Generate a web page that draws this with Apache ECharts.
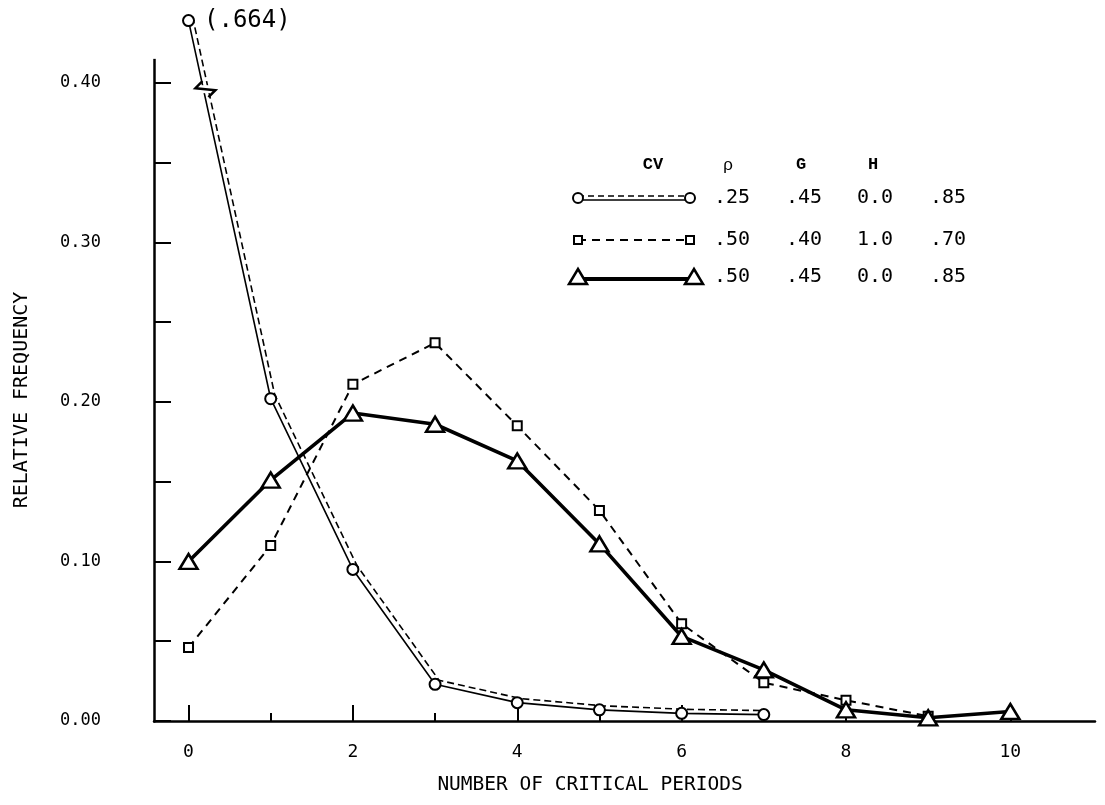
<!DOCTYPE html>
<html><head><meta charset="utf-8">
<script src="https://cdn.jsdelivr.net/npm/echarts@6/dist/echarts.min.js"></script>
<style>html,body{margin:0;padding:0;background:#fff}#c{width:1105px;height:805px}</style>
</head><body><div id="c"></div>
<script>
// ---- data ----
const periods = [0, 1, 2, 3, 4, 5, 6, 7, 8, 9, 10];
const circleSeries = [0.664, 0.202, 0.095, 0.023, 0.0115, 0.007, 0.0048, 0.004];           // CV .25
const squareSeries = [0.046, 0.110, 0.211, 0.237, 0.185, 0.132, 0.061, 0.024, 0.013, 0.003]; // CV .50 G 1.0
const triangleSeries = [0.100, 0.151, 0.193, 0.186, 0.163, 0.111, 0.053, 0.032, 0.007, 0.002, 0.006]; // CV .50 G 0.0
const xLabelValues = [0, 2, 4, 6, 8, 10];
const xMinorTickValues = [1, 3, 5, 7, 9];
const yLabelValues = [0, 0.1, 0.2, 0.3, 0.4];
const yTickValues = [0, 0.05, 0.1, 0.15, 0.2, 0.25, 0.3, 0.35, 0.4];
const legendHeader = ['CV', 'ρ', 'G', 'H'];
const legendRows = [
  ['.25', '.45', '0.0', '.85'],
  ['.50', '.40', '1.0', '.70'],
  ['.50', '.45', '0.0', '.85']
];
const topValueLabel = '(.664)';
const xTitle = 'NUMBER OF CRITICAL PERIODS';
const yTitle = 'RELATIVE FREQUENCY';

// ---- chart ----
const MONO = '"DejaVu Sans Mono", monospace';
const chart = echarts.init(document.getElementById('c'), null, {renderer: 'canvas'});

const pairs = (arr) => arr.map((v, i) => [periods[i], v]);

function makeY(gridIndex, visible) {
  return {
    type: 'value', gridIndex, min: 0, max: 0.67, position: 'left',
    breaks: [{start: 0.425, end: 0.65, gap: 0}],
    breakArea: {show: false},
    show: visible,
    splitLine: {show: false},
    axisLine: {show: true, onZero: false, lineStyle: {color: '#000', width: 2.5}},
    axisTick: {show: true, inside: true, length: 17, customValues: yTickValues, lineStyle: {color: '#000', width: 2}},
    axisLabel: {show: true, customValues: yLabelValues, margin: 53, color: '#000', fontFamily: MONO, fontSize: 17,
      formatter: (v) => v.toFixed(2)}
  };
}
function makeX(gridIndex, visible, minor) {
  return {
    type: 'value', gridIndex, min: -0.42, max: 11.03, position: 'bottom',
    show: visible,
    splitLine: {show: false},
    axisLine: {show: !minor, onZero: false, lineStyle: {color: '#000', width: 2.5}},
    axisTick: {show: true, inside: true, length: minor ? 8 : 16,
      customValues: minor ? xMinorTickValues : xLabelValues, lineStyle: {color: '#000', width: 2}},
    axisLabel: {show: !minor, customValues: xLabelValues, margin: 22, color: '#000', fontFamily: MONO, fontSize: 18}
  };
}

const circleData = pairs(circleSeries).map((p, i) => i === 0 ? {
  value: p,
  label: {show: true, position: 'right', distance: 9, formatter: topValueLabel,
    color: '#000', fontFamily: MONO, fontSize: 24}
} : p);

// legend drawing
const lx0 = 578, lx1 = 690;
const rowY = [198, 240, 277];
const valX = [732, 804, 875, 948];
const headX = [653, 728, 801, 873];
const headY = 165;
const legendGraphics = [];
legendHeader.forEach((h, i) => legendGraphics.push({
  type: 'text', x: headX[i], y: headY,
  style: {text: h, fill: '#000', font: (i === 1 ? '' : 'bold ') + '17px "Liberation Mono", monospace', align: 'center', verticalAlign: 'middle'}
}));
legendRows.forEach((row, r) => row.forEach((t, i) => legendGraphics.push({
  type: 'text', x: valX[i], y: rowY[r],
  style: {text: t, fill: '#000', font: '20px ' + MONO, align: 'center', verticalAlign: 'middle'}
})));
legendGraphics.push(
  {type: 'line', shape: {x1: lx0, y1: rowY[0] + 2, x2: lx1, y2: rowY[0] + 2}, style: {stroke: '#000', lineWidth: 1.5}},
  {type: 'line', shape: {x1: lx0, y1: rowY[0] - 2, x2: lx1, y2: rowY[0] - 2}, style: {stroke: '#000', lineWidth: 1.5, lineDash: [6, 4]}},
  {type: 'circle', shape: {cx: lx0, cy: rowY[0], r: 5}, style: {fill: '#fff', stroke: '#000', lineWidth: 2}, z: 10},
  {type: 'circle', shape: {cx: lx1, cy: rowY[0], r: 5}, style: {fill: '#fff', stroke: '#000', lineWidth: 2}, z: 10}
);
legendGraphics.push(
  {type: 'line', shape: {x1: lx0, y1: rowY[1], x2: lx1, y2: rowY[1]}, style: {stroke: '#000', lineWidth: 2, lineDash: [8, 6]}},
  {type: 'rect', shape: {x: lx0 - 4, y: rowY[1] - 4, width: 8, height: 8}, style: {fill: '#fff', stroke: '#000', lineWidth: 2}, z: 10},
  {type: 'rect', shape: {x: lx1 - 4, y: rowY[1] - 4, width: 8, height: 8}, style: {fill: '#fff', stroke: '#000', lineWidth: 2}, z: 10}
);
const tri = (x, y) => ({type: 'polygon', shape: {points: [[x - 9, y + 7], [x + 9, y + 7], [x, y - 8]]},
  style: {fill: '#fff', stroke: '#000', lineWidth: 2.5}, z: 10});
legendGraphics.push(
  {type: 'line', shape: {x1: lx0, y1: rowY[2] + 2, x2: lx1, y2: rowY[2] + 2}, style: {stroke: '#000', lineWidth: 4}},
  tri(lx0, rowY[2]), tri(lx1 + 4, rowY[2])
);
legendGraphics.push(
  {type: 'text', x: 590, y: 785, style: {text: xTitle, fill: '#000', font: '19.5px ' + MONO, align: 'center', verticalAlign: 'middle'}},
  {type: 'text', x: 22, y: 400, rotation: Math.PI / 2,
    style: {text: yTitle, fill: '#000', font: '20px ' + MONO, align: 'center', verticalAlign: 'middle'}}
);

const option = {
  backgroundColor: '#fff',
  animation: false,
  grid: [
    {left: 154, right: 10, top: 11, bottom: 84},
    {left: 158, right: 6, top: 7, bottom: 88}
  ],
  xAxis: [makeX(0, true, false), makeX(0, true, true), makeX(1, false, false)],
  yAxis: [makeY(0, true), makeY(1, false)],
  series: [
    {
      name: 'CV .25 dashed', type: 'line', xAxisIndex: 2, yAxisIndex: 1, data: pairs(circleSeries),
      showSymbol: false, clip: false,
      lineStyle: {color: '#000', width: 1.6, type: [7, 4]}, z: 2
    },
    {
      name: 'CV .25', type: 'line', xAxisIndex: 0, yAxisIndex: 0, data: circleData, clip: false,
      symbol: 'circle', symbolSize: 11,
      itemStyle: {color: '#fff', borderColor: '#000', borderWidth: 2},
      lineStyle: {color: '#000', width: 1.6}, z: 3
    },
    {
      name: 'CV .50 G 1.0', type: 'line', xAxisIndex: 0, yAxisIndex: 0, data: pairs(squareSeries), clip: false,
      symbol: 'rect', symbolSize: 9,
      itemStyle: {color: '#fff', borderColor: '#000', borderWidth: 2},
      lineStyle: {color: '#000', width: 2, type: [8, 6]}, z: 4
    },
    {
      name: 'CV .50 G 0.0', type: 'line', xAxisIndex: 0, yAxisIndex: 0, data: pairs(triangleSeries), clip: false,
      symbol: 'triangle', symbolSize: [18, 15],
      itemStyle: {color: '#fff', borderColor: '#000', borderWidth: 2.5},
      lineStyle: {color: '#000', width: 3.6}, z: 5
    }
  ],
  graphic: legendGraphics
};
chart.setOption(option);

// axis-break decorations placed through the chart's own scales
const axisTop = chart.convertToPixel({gridIndex: 0}, [-0.42, 0.415]);
const gridTop = chart.convertToPixel({gridIndex: 0}, [-0.42, 0.67]);
const p0 = chart.convertToPixel({gridIndex: 0}, [periods[0], circleSeries[0]]);
const p1 = chart.convertToPixel({gridIndex: 0}, [periods[1], circleSeries[1]]);
const yb = chart.convertToPixel({gridIndex: 0}, [0, 0.396])[1];
const t = (yb - p0[1]) / (p1[1] - p0[1]);
const xb = p0[0] + t * (p1[0] - p0[0]) + 2;
chart.setOption({graphic: legendGraphics.concat([
  {type: 'rect', shape: {x: axisTop[0] - 5, y: gridTop[1] - 3, width: 10, height: axisTop[1] - gridTop[1] + 3},
    style: {fill: '#fff'}, z: 200},
  {type: 'rect', shape: {x: xb - 6, y: yb - 4, width: 12, height: 8}, style: {fill: '#fff'}, z: 200},
  {type: 'polyline', shape: {points: [[xb - 3, yb - 8], [xb - 10, yb - 1], [xb + 10, yb + 1], [xb + 3, yb + 8]]},
    style: {stroke: '#000', lineWidth: 2.5, fill: null}, z: 201}
])});
</script>
</body></html>
